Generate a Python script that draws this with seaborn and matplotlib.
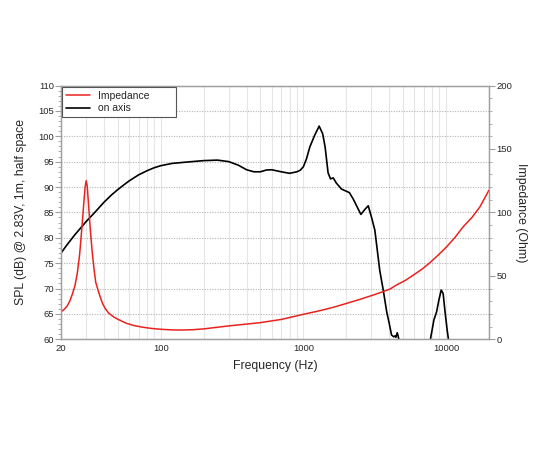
import numpy as np
import pandas as pd
import matplotlib
matplotlib.use("Agg")
import matplotlib.pyplot as plt
import matplotlib.ticker as mticker
import seaborn as sns

# on-axis SPL response (dB), values below 60 fall off the bottom of the chart
spl_freq = [20, 22, 25, 30, 35, 40, 45, 50, 55, 60, 70, 80, 90, 100, 120, 150,
            200, 250, 300, 350, 400, 450, 500, 550, 600, 700, 800, 900, 950,
            1000, 1050, 1110, 1200, 1290, 1365, 1420, 1490, 1550, 1620, 1700,
            1850, 2100, 2230, 2530, 2700, 2850, 3000, 3170, 3430, 3630, 3840,
            4000, 4150, 4300, 4380, 4450, 4550, 4620, 4700, 5000, 7500, 7800,
            8220, 8590, 8910, 9250, 9550, 9810, 10190, 10420, 11000]
spl_db = [77.0, 78.6, 80.6, 83.2, 85.2, 87.0, 88.4, 89.5, 90.4, 91.2, 92.4,
          93.2, 93.8, 94.2, 94.65, 94.9, 95.2, 95.3, 95.0, 94.3, 93.4, 93.0,
          93.0, 93.35, 93.4, 93.0, 92.7, 93.0, 93.3, 94.0, 95.5, 97.9, 100.2,
          102.0, 100.5, 97.9, 92.8, 91.6, 91.8, 90.8, 89.6, 88.9, 87.7, 84.6,
          85.6, 86.3, 84.1, 81.5, 73.6, 69.7, 65.4, 63.1, 60.85, 60.5, 60.65,
          60.4, 61.3, 60.6, 59.5, 50, 50, 60.2, 63.8, 65.4, 67.7, 69.7, 69.0,
          65.8, 61.8, 59.8, 50]

# impedance (Ohm)
imp_freq = [20, 21, 22, 23, 24, 25, 26, 27, 28, 29, 29.5, 30, 30.5, 31, 32, 33,
            34, 35, 36.5, 37.6, 39, 40.7, 43, 46.5, 50, 57.5, 65, 76, 87, 100,
            120, 140, 170, 200, 297, 400, 497, 704, 1000, 1300, 1618, 2010,
            2500, 3090, 3440, 4045, 4500, 5200, 5900, 6800, 7700, 8800, 10100,
            11600, 13200, 15200, 17300, 20000]
imp_ohm = [21.7, 23.5, 26, 30, 35.5, 42, 52, 67, 88, 110, 120, 125, 121, 110,
           88, 70, 56, 45, 38, 33.5, 28.5, 24.4, 20.8, 17.8, 15.8, 12.6, 10.8,
           9.4, 8.5, 7.9, 7.4, 7.3, 7.6, 8.2, 10.5, 12.0, 13.1, 15.7, 19.7,
           22.5, 25.2, 28.3, 31.5, 34.9, 36.7, 39.6, 42.8, 46.5, 50.6, 55.3,
           60.3, 66.3, 72.9, 80.5, 88.7, 96.0, 104.4, 117.5]

spl = pd.DataFrame({"freq": spl_freq, "db": spl_db})
imp = pd.DataFrame({"freq": imp_freq, "ohm": imp_ohm})

sns.set_style("white")
plt.rcParams["font.family"] = ["Liberation Sans", "DejaVu Sans"]

fig = plt.figure(figsize=(5.5, 4.5), dpi=100)
ax = fig.add_axes([0.111, 0.246, 0.778, 0.564])
ax2 = ax.twinx()

sns.lineplot(data=spl, x="freq", y="db", ax=ax, color="black", lw=1.2, sort=False)
sns.lineplot(data=imp, x="freq", y="ohm", ax=ax2, color="#e8231f", lw=1.1, sort=False)

ax.set_xscale("log")
ax.set_xlim(20, 20000)
ax.set_ylim(60, 110)
ax2.set_ylim(0, 200)

ax.set_xticks([20, 100, 1000, 10000])
ax.xaxis.set_major_formatter(mticker.FixedFormatter(["20", "100", "1000", "10000"]))
ax.xaxis.set_minor_locator(mticker.LogLocator(base=10, subs=np.arange(2, 10)))
ax.xaxis.set_minor_formatter(mticker.NullFormatter())
ax.set_yticks(np.arange(60, 111, 5))
ax.yaxis.set_minor_locator(mticker.MultipleLocator(1))
ax2.set_yticks(np.arange(0, 201, 50))
ax2.yaxis.set_minor_locator(mticker.MultipleLocator(10))

# grid
ax.grid(True, which="both", axis="x", color="#d2d2d2", lw=0.8, ls=(0, (1, 0.8)))
ax.grid(True, which="major", axis="y", color="#b4b4b4", lw=0.8, ls=(0, (1, 1.3)))
ax.set_axisbelow(True)

for a in (ax, ax2):
    for s in a.spines.values():
        s.set_color("#a0a0a0")
        s.set_linewidth(0.9)
    a.tick_params(which="major", direction="out", length=4, width=0.8,
                  color="#a0a0a0", labelsize=6.8, pad=1.2)
    a.tick_params(which="minor", direction="out", length=2, width=0.6,
                  color="#a0a0a0")
ax.tick_params(axis="x", which="minor", length=0)
ax.tick_params(axis="x", which="major", length=2)

ax.set_xlabel("Frequency (Hz)", fontsize=8.8, labelpad=5)
ax.set_ylabel("SPL (dB) @ 2.83V, 1m, half space", fontsize=8.8, labelpad=8)
ax2.set_ylabel("Impedance (Ohm)", fontsize=8.8, rotation=270, labelpad=11)

handles = [ax2.lines[0], ax.lines[0]]
leg = ax2.legend(handles, ["Impedance", "on axis"], loc="upper left",
                 bbox_to_anchor=(0.003, 0.883, 0.265, 0.1115), mode="expand",
                 fontsize=7.5, frameon=True, fancybox=False, borderaxespad=0,
                 handlelength=2.3, handletextpad=0.8, borderpad=0.35,
                 labelspacing=0.25, framealpha=1)
leg.get_frame().set_edgecolor("#555555")
leg.get_frame().set_linewidth(0.8)

fig.savefig("out.png", dpi=100)
